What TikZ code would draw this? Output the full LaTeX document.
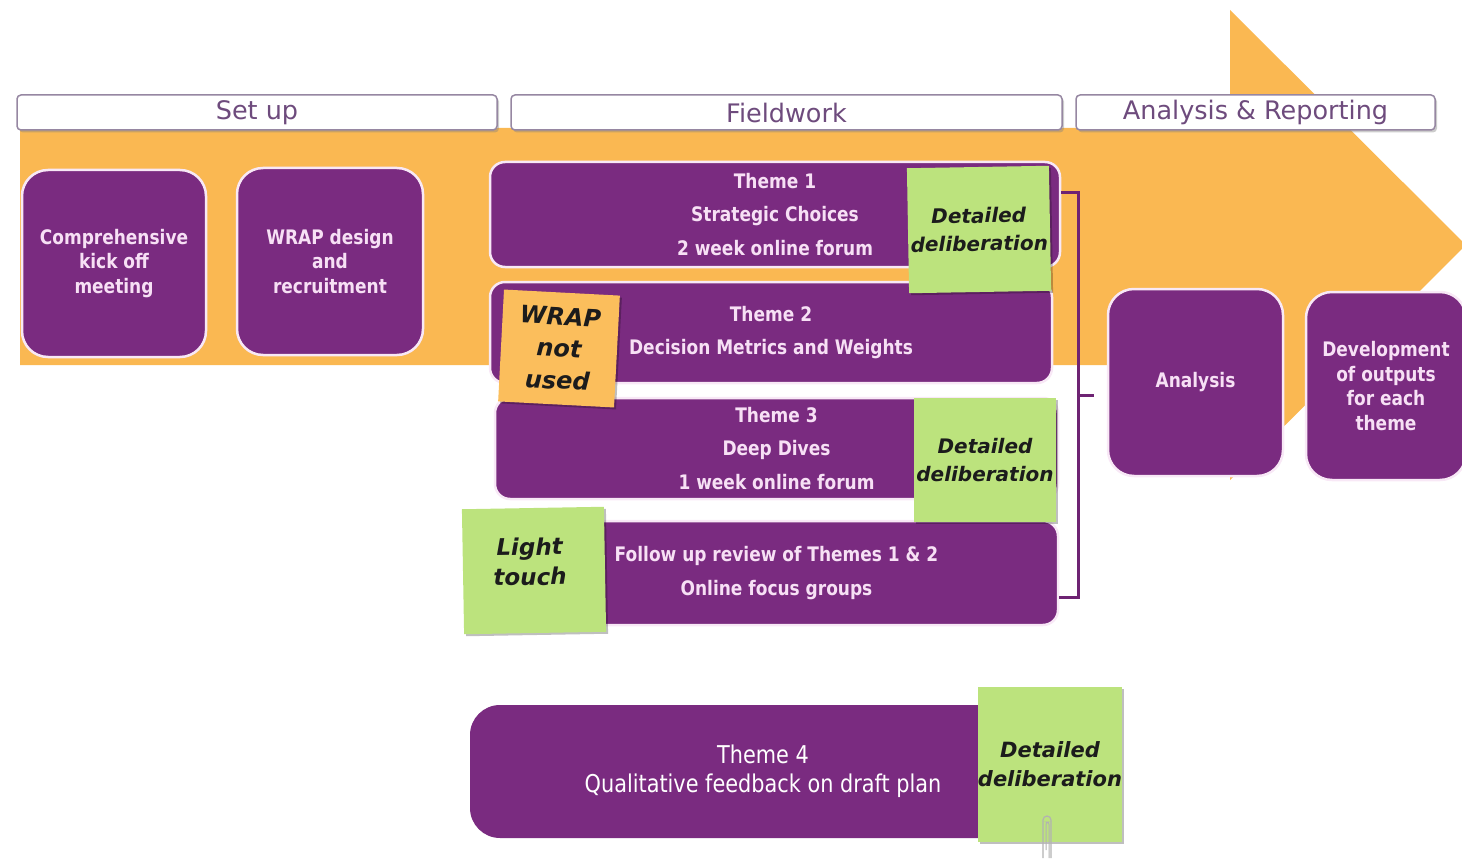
\documentclass[tikz,border=0pt]{standalone}
\usepackage{fontspec}
\setmainfont{DejaVu Sans}
\newfontfamily\boxf[FakeStretch=0.85]{DejaVu Sans}
\newfontfamily\hdrf{DejaVu Sans}
\newfontfamily\handf{DejaVu Sans}
\usetikzlibrary{shadows}
\definecolor{purp}{RGB}{122,43,128}
\definecolor{arrowc}{RGB}{250,184,82}
\definecolor{greenS}{RGB}{188,227,125}
\definecolor{orangeS}{RGB}{251,190,92}
\definecolor{txtpink}{RGB}{247,224,245}
\definecolor{hdrtxt}{RGB}{110,75,125}
\definecolor{hdrborder}{RGB}{150,135,162}
\definecolor{boxedge}{RGB}{248,232,246}
\definecolor{notetxt}{RGB}{28,28,28}
\definecolor{brk}{RGB}{110,35,115}
\begin{document}
\begin{tikzpicture}[x=1pt,y=-1pt,
  phase/.style={draw=hdrborder, line width=1.5pt, fill=white, rounded corners=4pt,
    minimum height=35pt, inner sep=0pt, text=hdrtxt,
    font=\hdrf\fontsize{25.5}{28}\selectfont,
    drop shadow={shadow xshift=2pt, shadow yshift=-2.5pt, opacity=0.4, fill=gray}},
  bigbox/.style={fill=purp, draw=boxedge, line width=2.5pt, rounded corners=26pt,
    inner sep=0pt, align=center, text=txtpink,
    font=\boxf\bfseries\fontsize{20}{24.5}\selectfont},
  theme/.style={fill=purp, draw=boxedge, line width=2.5pt, rounded corners=15pt,
    inner sep=0pt, align=center, text=txtpink,
    font=\boxf\bfseries\fontsize{20}{33.5}\selectfont},
  note/.style={fill=greenS, inner sep=0pt, align=center, text=notetxt,
    font=\handf\bfseries\itshape\fontsize{20}{28}\selectfont,
    drop shadow={shadow xshift=2pt, shadow yshift=-2pt, opacity=0.25, fill=black}},
  bracketline/.style={draw=brk, line width=3pt},
]
\useasboundingbox (0,0) rectangle (1462,861);
\clip (0,0) rectangle (1462,861);

% big orange arrow
\fill[arrowc] (20,128) -- (1230,128) -- (1230,10) -- (1466,245) -- (1230,480)
  -- (1230,365) -- (20,365) -- cycle;

% phase headers
\node[phase, minimum width=480pt] (hs) at (257,112.5) {Set up};
\node[phase, minimum width=551pt] (hf) at (786.5,112.5) {Fieldwork};
\node[phase, minimum width=359pt] (ha) at (1255.5,112.5) {Analysis \& Reporting};

% set up boxes
\node[bigbox, minimum width=184pt, minimum height=187pt] (b1) at (114,263.5)
  {Comprehensive\\kick off\\meeting};
\node[bigbox, minimum width=186pt, minimum height=187pt] (b2) at (330,261.5)
  {WRAP design\\and\\recruitment};

% fieldwork themes
\node[theme, minimum width=570pt, minimum height=105pt] (t1) at (775,214.5)
  {Theme 1\\Strategic Choices\\2 week online forum};
\node[theme, minimum width=562pt, minimum height=101pt] (t2) at (771,332.5)
  {Theme 2\\Decision Metrics and Weights};
\node[theme, minimum width=563pt, minimum height=101pt] (t3) at (776.5,448.5)
  {Theme 3\\Deep Dives\\1 week online forum};
\node[theme, minimum width=563pt, minimum height=104pt] (fu) at (776.5,573)
  {Follow up review of Themes 1 \& 2\\Online focus groups};

% analysis boxes
\node[bigbox, minimum width=175pt, minimum height=187pt] (an) at (1195.5,382.5)
  {\raisebox{-3pt}{Analysis}};
\node[bigbox, minimum width=160pt, minimum height=188pt] (dev) at (1386,386)
  {Development\\of outputs\\for each\\theme};

% bracket
\coordinate (bk) at (1078,395);
\draw[bracketline] ([yshift=21.5pt]t1.east) -| (bk) |- ([yshift=-24pt]fu.east);
\draw[bracketline, shorten >=13pt] (bk) -- (an.west |- bk);

% sticky notes
\node[note, minimum width=142pt, minimum height=125pt, rotate=1] (s1) at (979,229.5)
  {Detailed\\deliberation};
\node[note, fill=orangeS, minimum width=116pt, minimum height=112pt, rotate=-3,
  font=\handf\bfseries\itshape\fontsize{24}{32}\selectfont] (wr) at (559,348.5)
  {WRAP\\not\\used};
\node[note, minimum width=142pt, minimum height=124pt] (s2) at (985,460)
  {Detailed\\deliberation};
\node[note, minimum width=142pt, minimum height=125pt, rotate=1,
  font=\handf\bfseries\itshape\fontsize{23}{30}\selectfont] (lt) at (534,570.5)
  {\hspace*{-8pt}Light\\\hspace*{-8pt}touch\\[-12pt]\mbox{}};

% theme 4
\node[fill=purp, rounded corners=30pt, inner sep=0pt, align=center, text=white,
  minimum width=586pt, minimum height=133pt,
  font=\boxf\fontsize{24.5}{29}\selectfont] (t4) at (763,771.5)
  {Theme 4\\Qualitative feedback on draft plan};
\node[note, minimum width=140pt, minimum height=155pt,
  font=\handf\bfseries\itshape\fontsize{21}{29}\selectfont] (s3) at (1050,764.5)
  {Detailed\\deliberation};

% paper clip
\draw[gray!60, line width=1.2pt, rounded corners=4pt] (1043,858) -- (1043,816) -- (1051,816) -- (1051,858);
\draw[gray!60, line width=1pt, rounded corners=2.5pt] (1046,850) -- (1046,822) -- (1049,822) -- (1049,858);
\end{tikzpicture}
\end{document}
